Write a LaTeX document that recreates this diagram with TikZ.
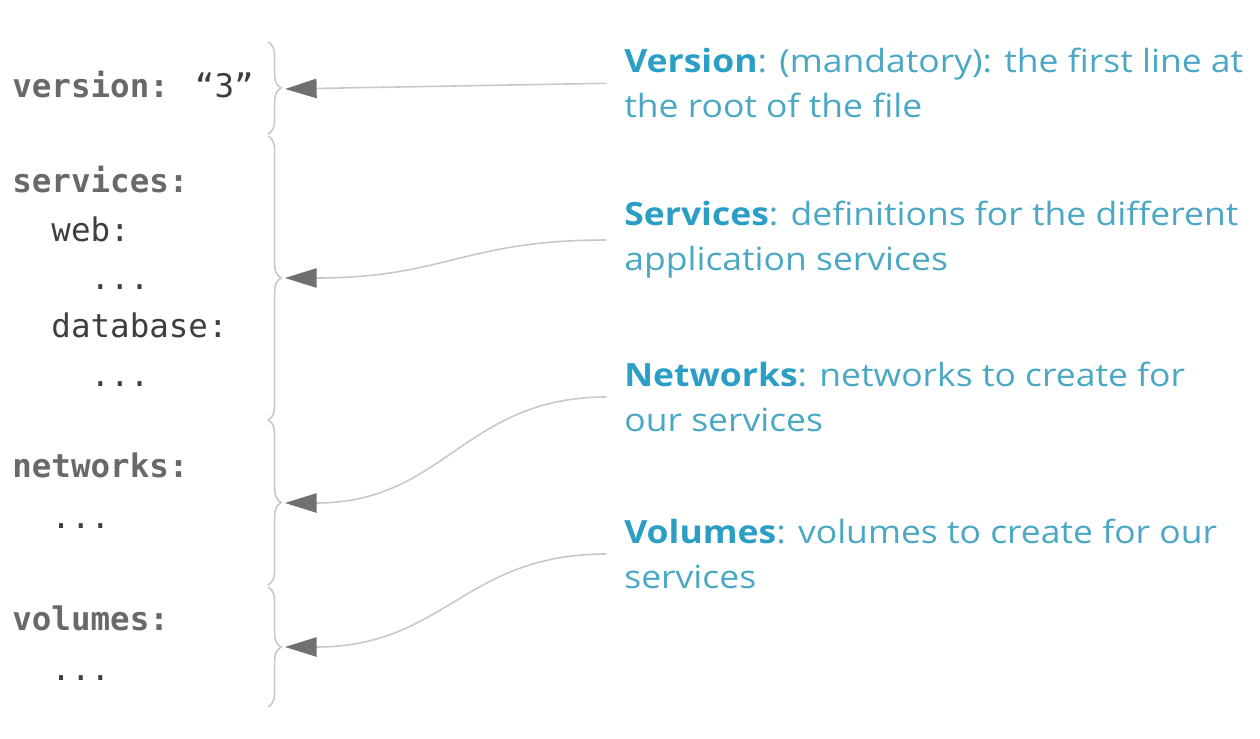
\documentclass[tikz,border=0pt]{standalone}
\usepackage{fontspec}
\setmainfont{Open Sans}[FakeStretch=1.11]
\newfontfamily\codefont{DejaVu Sans Mono}
\usetikzlibrary{arrows.meta,decorations.pathreplacing}
\definecolor{docblue}{RGB}{74,168,196}
\definecolor{docbold}{RGB}{42,158,197}
\definecolor{keygray}{RGB}{105,105,105}
\definecolor{codegray}{RGB}{62,62,62}
\definecolor{linegray}{RGB}{200,200,200}
\definecolor{headgray}{RGB}{112,112,112}
\tikzset{
    key/.style={anchor=base west, inner sep=0pt, text=keygray,
        font=\codefont\bfseries\fontsize{18.5}{22}\selectfont},
    code/.style={anchor=base west, inner sep=0pt, text=codegray,
        font=\codefont\fontsize{18.5}{22}\selectfont},
    note/.style={anchor=west, inner sep=0pt, align=left, text=docblue,
        font=\fontsize{18.2}{25.6}\selectfont},
    bracket/.style={draw=linegray, line width=0.9pt, decorate,
        decoration={brace, amplitude=7.5pt}},
    pointer/.style={draw=linegray, line width=0.9pt, shorten <=10pt,
        -{Triangle[length=18pt,width=11pt,color=headgray]}}
}
\newcommand{\hl}[1]{\textcolor{docbold}{\textbf{#1}}}
\begin{document}
\begin{tikzpicture}[x=0.02cm, y=-0.02cm]
    \useasboundingbox (0,0) rectangle (1260,739);
    \node[key] (version) at (12,98) {version: {\mdseries\color{codegray}“3”}};
    \node[key] (services) at (12,193) {services:};
    \node[code] (web) at (12,242) {\ \ web:};
    \node[code] (webdots) at (12,290) {\ \ \ \ ...};
    \node[code] (database) at (12,338) {\ \ database:};
    \node[code] (dbdots) at (12,387) {\ \ \ \ ...};
    \node[key] (networks) at (12,477) {networks:};
    \node[code] (netdots) at (12,528) {\ \ ...};
    \node[key] (volumes) at (12,630) {volumes:};
    \node[code] (voldots) at (12,680) {\ \ ...};

    \draw[bracket] (268,42) -- (268,134);
    \draw[bracket] (268,136) -- (268,420);
    \draw[bracket] (268,420) -- (268,585);
    \draw[bracket] (268,587) -- (268,707);

    \coordinate (tipv) at (285,89);
    \coordinate (tips) at (285,278);
    \coordinate (tipn) at (285,503);
    \coordinate (tipo) at (285,647);

    \node[note] (vers) at (624,83) {\hl{Version}: (mandatory): the first line at\\the root of the file};
    \node[note] (serv) at (624,240) {\hl{Services}: definitions for the different\\application services};
    \node[note] (netw) at (624,397) {\hl{Networks}: networks to create for\\our services};
    \node[note] (volu) at (624,554) {\hl{Volumes}: volumes to create for our\\services};

    \draw[pointer] (vers.west) -- (tipv);
    \draw[pointer] (serv.west) .. controls +(-160,0) and +(160,0) .. (tips);
    \draw[pointer] (netw.west) .. controls +(-160,0) and +(160,0) .. (tipn);
    \draw[pointer] (volu.west) .. controls +(-160,0) and +(160,0) .. (tipo);
\end{tikzpicture}
\end{document}
